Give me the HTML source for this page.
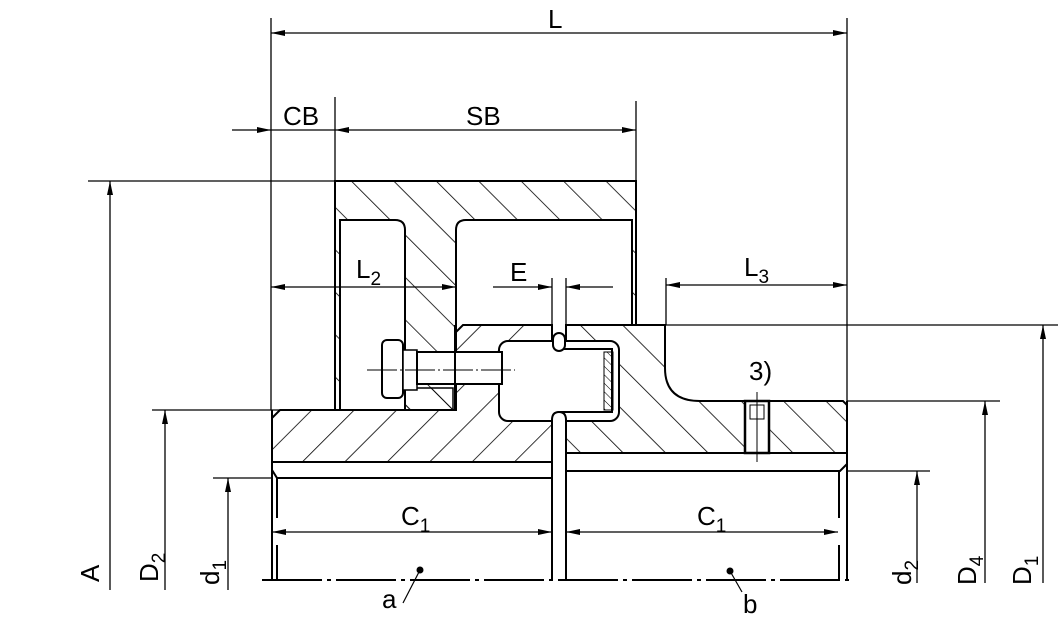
<!DOCTYPE html>
<html><head><meta charset="utf-8"><style>
html,body{margin:0;padding:0;background:#fff}
svg{display:block}
text{font-family:"Liberation Sans",sans-serif;font-size:26px;fill:#000}
.s{font-size:19px}
</style></head><body>
<svg width="1058" height="617" viewBox="0 0 1058 617" xmlns="http://www.w3.org/2000/svg">
<defs>
<pattern id="hb" width="30" height="30" patternUnits="userSpaceOnUse" patternTransform="rotate(-45)">
<line x1="0" y1="0" x2="0" y2="30" stroke="#000" stroke-width="1.6"/></pattern>
<pattern id="hf" width="30" height="30" patternUnits="userSpaceOnUse" patternTransform="rotate(45)">
<line x1="0" y1="0" x2="0" y2="30" stroke="#000" stroke-width="1.6"/></pattern>
<pattern id="hs" width="6" height="6" patternUnits="userSpaceOnUse" patternTransform="rotate(-45)">
<line x1="0" y1="0" x2="0" y2="6" stroke="#000" stroke-width="1"/></pattern>
<marker id="a" viewBox="0 0 14 6" refX="14" refY="3" markerWidth="14" markerHeight="6" markerUnits="userSpaceOnUse" orient="auto-start-reverse">
<path d="M0,0 L14,3 L0,6 z" fill="#000"/></marker>
</defs>

<g stroke="#000" fill="none" stroke-width="1.3">
<line x1="271" y1="18" x2="271" y2="410"/>
<line x1="847" y1="18" x2="847" y2="401"/>
<line x1="335" y1="97" x2="335" y2="181"/>
<line x1="636" y1="101" x2="636" y2="181"/>
<line x1="88" y1="181" x2="335" y2="181"/>
<line x1="152" y1="410" x2="280" y2="410"/>
<line x1="213" y1="478" x2="272" y2="478"/>
<line x1="847" y1="471" x2="930" y2="471"/>
<line x1="847" y1="401" x2="1000" y2="401"/>
<line x1="636" y1="325" x2="1058" y2="325"/>
<line x1="666" y1="278" x2="666" y2="325"/>
<line x1="552" y1="278" x2="552" y2="330"/>
<line x1="566" y1="278" x2="566" y2="330"/>
<line x1="271" y1="33" x2="847" y2="33" marker-start="url(#a)" marker-end="url(#a)"/>
<line x1="232" y1="130" x2="271" y2="130" marker-end="url(#a)"/>
<line x1="271" y1="130" x2="335" y2="130"/>
<line x1="335" y1="130" x2="636" y2="130" marker-start="url(#a)" marker-end="url(#a)"/>
<line x1="271" y1="287" x2="456" y2="287" marker-start="url(#a)" marker-end="url(#a)"/>
<line x1="493" y1="287" x2="552" y2="287" marker-end="url(#a)"/>
<line x1="613" y1="287" x2="566" y2="287" marker-end="url(#a)"/>
<line x1="666" y1="285" x2="847" y2="285" marker-start="url(#a)" marker-end="url(#a)"/>
<line x1="110" y1="590" x2="110" y2="181" marker-end="url(#a)"/>
<line x1="165" y1="590" x2="165" y2="410" marker-end="url(#a)"/>
<line x1="228" y1="590" x2="228" y2="478" marker-end="url(#a)"/>
<line x1="917" y1="583" x2="917" y2="471" marker-end="url(#a)"/>
<line x1="985" y1="583" x2="985" y2="401" marker-end="url(#a)"/>
<line x1="1043" y1="583" x2="1043" y2="325" marker-end="url(#a)"/>
<line x1="272" y1="532" x2="552" y2="532" marker-start="url(#a)" marker-end="url(#a)"/>
<line x1="566" y1="532" x2="838" y2="532" marker-start="url(#a)" marker-end="url(#a)"/>
</g>

<path d="M335,181 H636 V325 H632 V220 H466 Q456,220 456,230 V410 H405 V230 Q405,220 395,220 H340 V410 H335 Z" fill="url(#hb)" stroke="#000" stroke-width="2"/>
<line x1="340" y1="220" x2="340" y2="410" stroke="#000" stroke-width="1.3"/>
<path d="M272,418 L280,410 H455 V333 L463,325 H552 V462 H272 Z" fill="url(#hf)" stroke="#000" stroke-width="2"/>
<path d="M566,325 H665 V368 Q665,401 700,401 H843 L847,405 V453 H566 Z" fill="url(#hb)" stroke="#000" stroke-width="2"/>
<path d="M405,388 H453 V410 H405 Z" fill="url(#hb)" stroke="#000" stroke-width="1.5"/>
<rect x="499" y="341" width="120" height="80" rx="9" fill="#fff" stroke="#000" stroke-width="2"/>
<path d="M560,349 H612 V412 H560" fill="none" stroke="#000" stroke-width="2"/>
<rect x="604" y="352" width="9" height="58" fill="url(#hs)" stroke="#000" stroke-width="1"/>
<rect x="382" y="340" width="21" height="58" rx="5" fill="#fff" stroke="#000" stroke-width="2"/>
<rect x="403" y="350" width="14" height="40" fill="#fff" stroke="#000" stroke-width="1.5"/>
<rect x="417" y="352" width="85" height="32" fill="#fff" stroke="#000" stroke-width="2"/>
<line x1="455" y1="325" x2="455" y2="410" stroke="#000" stroke-width="2"/>
<line x1="367" y1="370" x2="515" y2="370" stroke="#000" stroke-width="1" stroke-dasharray="30,3,2,3"/>
<path d="M552,580 V420 Q552,412 559,412 Q566,412 566,420 V580" fill="#fff" stroke="#000" stroke-width="2"/>
<rect x="553" y="333" width="12" height="18" rx="6" fill="#fff" stroke="#000" stroke-width="2"/>
<rect x="745" y="401" width="24" height="52" fill="#fff" stroke="#000" stroke-width="2.5"/>
<rect x="750" y="405" width="14" height="14" fill="none" stroke="#000" stroke-width="1"/>
<line x1="757" y1="392" x2="757" y2="462" stroke="#000" stroke-width="1"/>
<g stroke="#000" fill="none" stroke-width="2">
<line x1="272" y1="462" x2="552" y2="462"/>
<path d="M272,470 L277,478 H552"/>
<line x1="272" y1="410" x2="272" y2="580"/>
<line x1="277" y1="478" x2="277" y2="518"/>
<line x1="277" y1="545" x2="277" y2="580"/>
<line x1="566" y1="453" x2="847" y2="453"/>
<path d="M566,471 H840 L847,464"/>
<line x1="847" y1="401" x2="847" y2="580"/>
<line x1="839" y1="471" x2="839" y2="518"/>
<line x1="839" y1="545" x2="839" y2="580"/>
<line x1="262" y1="580" x2="850" y2="580" stroke-dasharray="60,5,4,5"/>
</g>
<circle cx="420" cy="570" r="3.5"/>
<line x1="420" y1="570" x2="403" y2="603" stroke="#000" stroke-width="1.2"/>
<circle cx="730" cy="571" r="3.5"/>
<line x1="730" y1="571" x2="742" y2="592" stroke="#000" stroke-width="1.2"/>

<text x="548" y="28">L</text>
<text x="283" y="125">CB</text>
<text x="466" y="125">SB</text>
<text x="356" y="278">L<tspan class="s" dy="7">2</tspan></text>
<text x="510" y="281">E</text>
<text x="744" y="276">L<tspan class="s" dy="7">3</tspan></text>
<text x="749" y="380">3)</text>
<text x="401" y="525">C<tspan class="s" dy="7">1</tspan></text>
<text x="697" y="525">C<tspan class="s" dy="7">1</tspan></text>
<text x="382" y="608">a</text>
<text x="743" y="613">b</text>
<text transform="translate(99,582) rotate(-90)">A</text>
<text transform="translate(158,582) rotate(-90)">D<tspan class="s" dy="7">2</tspan></text>
<text transform="translate(219,585) rotate(-90)">d<tspan class="s" dy="7">1</tspan></text>
<text transform="translate(911,585) rotate(-90)">d<tspan class="s" dy="7">2</tspan></text>
<text transform="translate(976,585) rotate(-90)">D<tspan class="s" dy="7">4</tspan></text>
<text transform="translate(1031,585) rotate(-90)">D<tspan class="s" dy="7">1</tspan></text>
</svg>
</body></html>
